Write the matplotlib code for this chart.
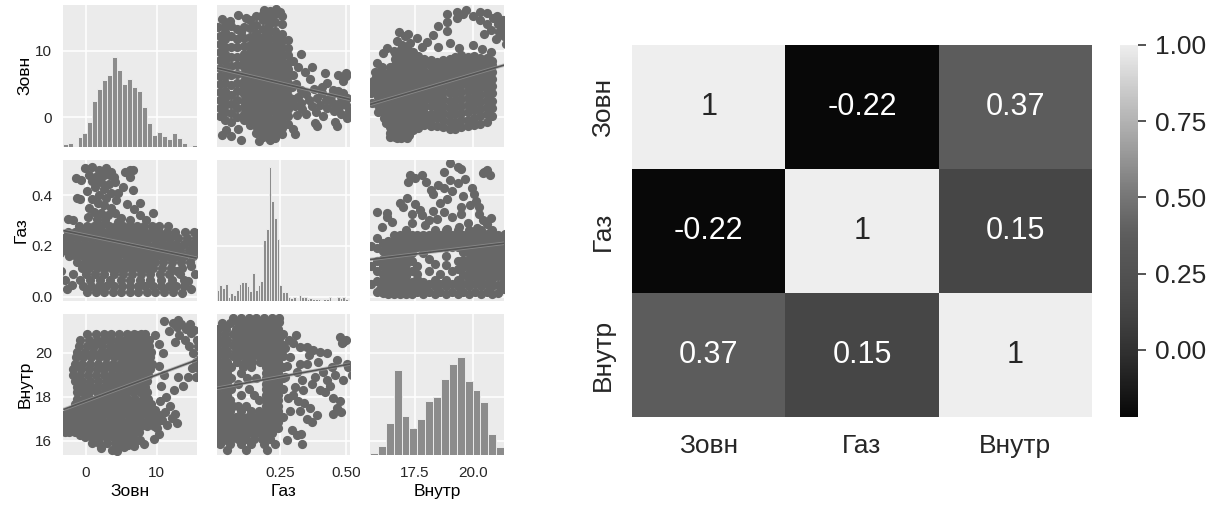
import numpy as np
import matplotlib
matplotlib.use("Agg")
import matplotlib.pyplot as plt
from matplotlib.colors import ListedColormap
import seaborn as sns

# ---------------------------------------------------------------- data
variables = ["Зовн", "Газ", "Внутр"]

corr_values = [[1.00, -0.22, 0.37],
               [-0.22, 1.00, 0.15],
               [0.37, 0.15, 1.00]]

# histogram: (first bin edge, bin width) and counts per bin
zovn_bins = (-3.30, 0.703)
zovn_counts = [7, 10, 3, 28, 42, 73, 135, 172, 200, 214, 268, 228, 188, 202,
               178, 165, 117, 70, 35, 44, 33, 23, 42, 27, 12, 3, 5]
gaz_bins = (0.009, 0.01038)
gaz_counts = [32, 47, 37, 50, 12, 24, 17, 32, 50, 55, 55, 44, 30, 82, 32, 47,
              59, 182, 215, 402, 300, 247, 184, 47, 27, 27, 10, 8, 12, 3, 17,
              10, 12, 6, 8, 6, 4, 4, 2, 6, 6, 12, 2, 3, 12, 8, 10, 4]
vnutr_bins = (15.55, 0.342)
vnutr_counts = [7, 28, 95, 255, 118, 80, 109, 162, 173, 228, 272, 292, 223,
                195, 158, 63, 25]

# scatter Зовн / Газ: rows (Газ, [Зовн, ...]) and single points (Зовн, Газ)
zovn_gaz_rows = [
    (0.280, [-1.0, 0.1, 1.2, 2.2, 3.2, 4.2, 5.2, 6.2, 7.2, 8.2, 9.3, 10.4, 11.6]),
    (0.256, [-2.6, -1.6, -0.6, 0.4, 1.4, 2.4, 3.4, 4.4, 5.4, 6.4, 7.4, 8.4, 9.4,
             10.4, 11.4, 12.6, 14.0, 15.3]),
    (0.232, [-3.1, -2.1, -1.1, -0.1, 0.9, 1.9, 2.9, 3.9, 4.9, 5.9, 6.9, 7.9, 8.9,
             9.9, 10.9, 11.9, 13.0, 14.3, 15.5]),
    (0.208, [-3.2, -2.3, -1.3, -0.3, 0.7, 1.7, 2.7, 3.7, 4.7, 5.7, 6.7, 7.7, 8.7,
             9.7, 10.7, 11.7, 12.8, 13.9, 15.0]),
    (0.184, [-3.0, -2.0, -1.0, 0.0, 1.0, 2.0, 3.0, 4.0, 5.0, 6.0, 7.0, 8.0, 9.0,
             10.0, 11.0, 12.1, 13.3, 14.6, 15.6]),
    (0.160, [-2.4, -1.4, -0.4, 0.6, 1.6, 2.6, 3.6, 4.6, 5.6, 6.6, 7.6, 8.6, 9.6,
             10.6, 11.6, 12.7, 13.9, 15.2]),
    (0.136, [-1.2, -0.2, 0.8, 1.8, 2.8, 3.8, 4.8, 5.8, 6.8, 7.8, 8.8, 9.8, 10.9,
             12.1, 13.4, 14.7]),
    (0.112, [-0.5, 0.5, 1.5, 2.5, 3.5, 4.5, 5.5, 6.5, 7.5, 8.5, 9.5, 10.7, 12.0, 13.6]),
    (0.088, [0.0, 1.3, 2.6, 3.9, 5.2, 6.5, 7.8, 9.1, 10.5, 11.8, 13.3]),
    (0.065, [-0.8, 0.6, 2.0, 3.4, 4.9, 6.3, 7.7, 9.0, 10.6, 12.2, 13.8]),
    (0.042, [-0.4, 0.7, 1.8, 2.9, 4.0, 5.1, 6.2, 7.3, 8.4, 9.5, 10.6, 11.7, 12.8, 13.8]),
    (0.020, [0.2, 1.4, 2.6, 3.8, 5.0, 6.2, 7.4, 8.6, 9.8, 11.0, 12.3]),
]
zovn_gaz_points = [
    (-0.1, 0.505), (0.9, 0.512), (1.9, 0.500), (2.9, 0.505), (3.6, 0.490),
    (6.2, 0.500), (0.4, 0.480), (1.5, 0.475), (2.5, 0.480), (3.9, 0.470),
    (-0.7, 0.460), (0.9, 0.455), (2.1, 0.450), (3.2, 0.445), (6.6, 0.420),
    (1.3, 0.430), (2.6, 0.425), (0.2, 0.415), (3.6, 0.410), (1.8, 0.400),
    (2.9, 0.390), (0.8, 0.385), (4.2, 0.380), (-1.3, 0.390), (1.7, 0.370),
    (2.6, 0.360), (3.5, 0.350), (0.5, 0.350), (5.8, 0.365), (6.8, 0.345),
    (1.2, 0.335), (2.2, 0.330), (3.1, 0.320), (4.1, 0.330), (0.3, 0.315),
    (9.5, 0.330), (5.0, 0.310), (7.6, 0.320), (-2.5, 0.305), (1.6, 0.305),
    (2.7, 0.300), (4.5, 0.295), (6.3, 0.300), (8.5, 0.300), (-1.8, 0.300),
    (6.3, 0.470), (6.6, 0.500), (5.5, 0.490), (4.1, 0.450), (3.4, 0.478),
    (1.1, 0.460), (-1.4, 0.466), (-0.9, 0.383), (7.6, 0.370), (4.5, 0.410),
    (5.2, 0.430), (16.0, 0.210), (16.3, 0.235), (15.9, 0.250), (16.1, 0.190),
    (-3.5, 0.100), (-3.6, 0.170), (-3.4, 0.210), (-2.7, 0.030), (-2.0, 0.045),
    (-2.9, 0.065), (14.8, 0.030), (15.4, 0.090), (-1.8, 0.090), (14.9, 0.120),
    (13.6, 0.015), (14.5, 0.060), (12.9, 0.100),
]

# scatter Зовн / Внутр: rows (Внутр, [Зовн, ...]) and single points (Зовн, Внутр)
zovn_vnutr_rows = [
    (20.85, [0.2, 1.4, 2.5, 3.6, 4.7, 5.8, 6.8, 7.8, 8.4]),
    (20.60, [-0.8, 0.4, 1.5, 2.6, 3.6, 4.6, 5.5, 6.4, 7.3, 8.2, 8.9]),
    (20.30, [-1.0, 0.1, 1.2, 2.3, 3.4, 4.4, 5.3, 6.2, 7.1, 8.0, 8.9, 5.8, 7.6]),
    (20.05, [-1.2, -0.1, 1.0, 2.1, 3.1, 4.1, 5.0, 5.9, 6.8, 7.7, 8.6, 9.2, 6.4]),
    (19.80, [-1.4, -0.4, 0.7, 1.8, 2.9, 3.9, 4.9, 5.8, 6.7, 7.6, 8.5, 9.1, 7.2]),
    (19.50, [-1.5, -0.5, 0.6, 1.7, 2.8, 3.8, 4.8, 5.7, 6.6, 7.5, 8.4, 9.3, 6.1]),
    (19.25, [-1.8, -0.7, 0.4, 1.5, 2.6, 3.7, 4.7, 5.6, 6.5, 7.4, 8.3, 9.0]),
    (19.00, [-1.8, -0.8, 0.3, 1.4, 2.5, 3.6, 4.6, 5.5, 6.4, 7.3, 8.2, 8.8]),
    (18.70, [-1.5, -0.5, 0.6, 1.7, 2.8, 3.8, 4.8, 5.8, 6.8, 7.8, 8.6]),
    (18.45, [-1.3, -0.2, 0.7, 1.6, 2.5, 3.4, 4.3, 5.3, 6.3, 7.3, 8.3]),
    (18.20, [-1.3, -0.4, 0.5, 1.6, 2.7, 3.7, 4.7, 5.7, 6.7, 7.7, 8.6]),
    (17.90, [-1.2, -0.3, 0.6, 1.5, 2.4, 3.3, 4.2, 5.1, 6.0, 7.0, 8.0, 8.8]),
    (17.65, [-1.6, -0.6, 0.4, 1.4, 2.4, 3.4, 4.4, 5.4, 6.4, 7.4, 8.4, 9.2]),
    (17.40, [-2.0, -1.5, -1.0, 0.0, 0.6, 1.0, 2.0, 3.0, 4.0, 5.0, 6.0, 7.0, 8.0,
             9.0, 9.8]),
    (17.15, [-3.1, -2.6, -2.2, -1.3, -0.8, -0.4, 0.5, 1.0, 1.4, 2.3, 3.2, 4.1, 5.0,
             5.9, 6.8, 7.7, 8.6, 9.5, 10.4]),
    (16.90, [-3.1, -2.2, -1.7, -1.3, -0.4, 0.0, 0.5, 1.4, 1.8, 2.3, 3.2, 4.1, 5.0,
             5.9, 6.8, 7.7, 8.6, 9.4, 10.2]),
    (16.65, [-3.0, -2.5, -2.1, -1.2, -0.7, -0.3, 0.6, 1.5, 2.4, 3.3, 4.2, 5.1, 6.0,
             6.9, 7.8, 8.7, 9.6]),
    (16.40, [-2.4, -1.5, -0.6, 0.3, 1.2, 2.1, 3.0, 3.9, 4.8, 5.7, 6.6, 7.5]),
    (16.15, [-0.2, 0.8, 1.8, 2.8, 3.8, 4.8, 5.8, 6.6]),
    (15.90, [0.8, 1.9, 3.0, 4.1, 5.2, 6.1]),
]
zovn_vnutr_points = [
    (2.2, 15.65), (3.7, 15.60), (5.4, 15.70), (6.8, 15.75), (4.4, 15.55),
    (9.8, 20.80), (10.3, 20.40), (10.9, 20.00), (10.4, 19.40), (11.1, 19.00),
    (10.6, 18.50), (11.3, 18.00), (10.5, 17.80), (11.9, 17.60), (12.4, 18.30),
    (11.7, 21.00), (12.3, 21.35), (12.9, 21.15), (13.5, 21.30), (14.1, 21.10),
    (14.7, 21.30), (15.3, 21.05), (13.2, 20.80), (14.0, 20.60), (12.6, 20.50),
    (14.6, 20.30), (15.2, 20.00), (15.5, 19.60), (15.0, 19.30), (14.4, 18.90),
    (13.7, 18.50), (13.0, 18.90), (15.6, 18.90), (10.0, 16.60), (10.8, 16.95),
    (11.5, 16.70), (12.2, 17.05), (12.9, 16.80), (11.2, 17.30), (12.6, 17.20),
    (10.4, 16.30), (9.6, 16.10), (8.2, 15.85), (7.6, 16.05), (15.8, 19.30),
    (16.1, 19.70), (15.9, 20.30), (15.7, 20.60), (14.9, 20.90), (4.5, 15.70),
    (6.0, 15.80), (7.0, 16.00), (13.0, 21.50), (11.0, 21.45),
    (6.5, 20.70), (7.5, 20.50), (8.5, 20.20), (7.0, 20.15), (8.0, 19.90),
    (6.0, 19.65), (8.8, 19.40), (7.8, 19.10), (5.2, 20.45), (6.9, 19.35),
    (7.2, 20.80), (8.2, 20.60), (6.2, 20.40), (8.6, 19.95), (7.4, 19.70),
    (5.6, 20.20), (8.0, 19.55), (6.6, 20.00), (7.9, 20.35), (5.9, 20.70),
    (-2.8, 16.75), (-1.9, 17.00), (-2.4, 16.50), (-1.0, 16.80), (-0.2, 16.55),
    (-1.6, 17.30), (-2.9, 17.00), (0.2, 16.30), (-0.9, 16.25), (-2.0, 16.85),
    (-2.6, 16.95), (-1.4, 16.60), (-3.0, 16.40), (-2.2, 17.20), (-0.6, 17.05),
    (-1.8, 16.45), (-2.7, 17.25), (-0.4, 16.85), (-1.2, 17.15), (-3.1, 16.70),
]

# scatter Газ / Внутр: rows (Внутр, [Газ, ...]) and single points (Газ, Внутр)
gaz_vnutr_rows = [
    (21.60, [0.07, 0.10, 0.13, 0.16, 0.19, 0.22, 0.245]),
    (21.35, [0.03, 0.06, 0.09, 0.115, 0.14, 0.165, 0.19, 0.215, 0.24, 0.205, 0.23]),
    (21.10, [0.015, 0.045, 0.082, 0.105, 0.128, 0.151, 0.174, 0.197, 0.22, 0.243,
             0.21, 0.23]),
    (20.85, [0.012, 0.04, 0.07, 0.095, 0.12, 0.145, 0.17, 0.195, 0.218, 0.241,
             0.262, 0.205, 0.23]),
    (20.60, [0.02, 0.05, 0.082, 0.105, 0.128, 0.151, 0.174, 0.197, 0.22, 0.243,
             0.21, 0.232]),
    (20.35, [0.012, 0.04, 0.07, 0.095, 0.12, 0.145, 0.17, 0.195, 0.218, 0.241,
             0.262, 0.205, 0.23]),
    (20.10, [0.02, 0.05, 0.082, 0.105, 0.128, 0.151, 0.174, 0.197, 0.22, 0.243,
             0.21, 0.232]),
    (19.85, [0.012, 0.04, 0.07, 0.095, 0.12, 0.145, 0.17, 0.195, 0.218, 0.241,
             0.262, 0.205, 0.23]),
    (19.60, [0.02, 0.05, 0.085, 0.115, 0.145, 0.175, 0.197, 0.22, 0.243, 0.21]),
    (19.35, [0.012, 0.04, 0.065, 0.11, 0.14, 0.195, 0.218, 0.241, 0.262]),
    (19.10, [0.02, 0.048, 0.10, 0.197, 0.22, 0.243]),
    (18.85, [0.012, 0.04, 0.065, 0.125, 0.16, 0.195, 0.218, 0.241, 0.262]),
    (18.60, [0.02, 0.048, 0.09, 0.197, 0.22, 0.243]),
    (18.35, [0.012, 0.04, 0.065, 0.13, 0.195, 0.218, 0.241, 0.262]),
    (18.10, [0.02, 0.048, 0.10, 0.15, 0.197, 0.22, 0.243]),
    (17.85, [0.012, 0.035, 0.058, 0.17, 0.195, 0.218, 0.241]),
    (17.60, [0.02, 0.045, 0.07, 0.09, 0.12, 0.197, 0.22, 0.243]),
    (17.35, [0.012, 0.035, 0.058, 0.10, 0.14, 0.17, 0.195, 0.218, 0.241]),
    (17.10, [0.012, 0.025, 0.035, 0.047, 0.058, 0.082, 0.105, 0.128, 0.151, 0.174,
             0.197, 0.22, 0.243, 0.262]),
    (16.85, [0.012, 0.025, 0.035, 0.047, 0.058, 0.082, 0.105, 0.128, 0.151, 0.174,
             0.197, 0.22, 0.243]),
    (16.60, [0.012, 0.025, 0.035, 0.047, 0.058, 0.082, 0.105, 0.128, 0.151, 0.174,
             0.197, 0.22, 0.243]),
    (16.35, [0.012, 0.025, 0.035, 0.058, 0.082, 0.105, 0.128, 0.151, 0.174, 0.197,
             0.22]),
    (16.10, [0.015, 0.04, 0.065, 0.09, 0.12, 0.15, 0.18, 0.21]),
    (15.85, [0.02, 0.06, 0.10, 0.14, 0.19, 0.23]),
    (15.60, [0.05, 0.12, 0.20]),
]
gaz_vnutr_points = [
    (0.301, 20.43), (0.326, 20.28), (0.352, 20.28), (0.377, 20.13), (0.403, 20.05),
    (0.428, 19.98), (0.478, 20.73), (0.491, 20.50), (0.503, 19.50), (0.465, 19.65),
    (0.446, 19.35), (0.415, 19.12), (0.383, 18.90), (0.352, 19.50), (0.326, 19.50),
    (0.313, 19.12), (0.332, 18.75), (0.306, 18.44), (0.339, 18.30), (0.320, 17.80),
    (0.364, 17.50), (0.326, 17.35), (0.288, 17.35), (0.352, 17.00), (0.453, 17.20),
    (0.466, 17.50), (0.478, 17.80), (0.491, 18.75), (0.510, 19.35), (0.428, 18.75),
    (0.453, 17.96), (0.403, 18.30), (0.288, 19.80), (0.294, 16.50), (0.275, 16.05),
    (0.281, 17.95), (0.268, 18.90), (0.330, 16.30), (0.370, 16.85), (0.390, 17.15),
    (0.480, 17.30), (0.500, 20.60), (0.485, 20.45), (0.440, 18.50), (0.460, 19.00),
    (0.420, 18.20), (0.395, 19.60), (0.360, 19.90), (0.310, 20.80), (0.285, 20.60),
    (0.270, 20.20), (0.275, 19.40), (0.300, 18.10), (0.525, 19.00), (0.370, 18.60),
    (0.340, 17.70), (0.334, 15.85), (0.314, 16.27),
    (0.018, 16.50), (0.030, 16.75), (0.042, 17.00), (0.050, 16.45), (0.022, 17.25),
    (0.060, 16.20), (0.030, 16.00), (0.045, 16.70), (0.015, 16.95), (0.055, 17.20),
    (0.200, 21.20), (0.225, 20.95), (0.250, 20.70), (0.210, 20.45), (0.235, 20.20),
    (0.255, 19.95), (0.200, 19.70), (0.245, 21.40), (0.215, 21.50), (0.230, 19.50),
]

# ---------------------------------------------------------------- style
plt.rcParams["font.family"] = ["Liberation Sans", "DejaVu Sans"]
TEXT = "#262626"
plt.rcParams["text.color"] = TEXT
plt.rcParams["xtick.color"] = TEXT
plt.rcParams["ytick.color"] = TEXT

BG = "#ebebeb"
POINT = "#676767"
BAR = "#8c8c8c"

W, H = 1228, 505
fig = plt.figure(figsize=(W / 100, H / 100), dpi=100)
fig.patch.set_facecolor("white")


def px_axes(x0, y0, x1, y1):
    return fig.add_axes([x0 / W, 1 - y1 / H, (x1 - x0) / W, (y1 - y0) / H])


def expand(rows, points):
    xs, ys = [], []
    for y, row in rows:
        xs.extend(row)
        ys.extend([y] * len(row))
    for x, y in points:
        xs.append(x)
        ys.append(y)
    return np.array(xs), np.array(ys)


pairs = {
    (0, 1): expand(zovn_gaz_rows, zovn_gaz_points),
    (0, 2): expand(zovn_vnutr_rows, zovn_vnutr_points),
    (1, 2): expand(gaz_vnutr_rows, gaz_vnutr_points),
}
hists = [(zovn_bins, zovn_counts), (gaz_bins, gaz_counts), (vnutr_bins, vnutr_counts)]
hist_top = max(max(c) for _, c in hists) * 1.05

# ---------------------------------------------------------------- pair grid
col_px = [(63.3, 196.7), (216.7, 350.0), (370.0, 504.3)]
row_px = [(5.0, 146.7), (160.0, 300.7), (314.0, 455.0)]
col_lims = [(-3.2, 15.66), (0.009, 0.516), (15.55, 21.37)]
row_lims = [(-4.46, 16.9), (-0.016, 0.538), (15.35, 21.76)]
col_ticks = [([0, 10], ["0", "10"]), ([0.25, 0.5], ["0.25", "0.50"]),
             ([17.5, 20.0], ["17.5", "20.0"])]
row_ticks = [([0, 10], ["0", "10"]), ([0.0, 0.2, 0.4], ["0.0", "0.2", "0.4"]),
             ([16, 18, 20], ["16", "18", "20"])]

for r in range(3):
    for c in range(3):
        ax = px_axes(col_px[c][0], row_px[r][0], col_px[c][1], row_px[r][1])
        ax.set_facecolor(BG)
        for s in ax.spines.values():
            s.set_visible(False)
        ax.set_xlim(*col_lims[c])
        ax.set_ylim(*row_lims[r])
        ax.set_xticks(col_ticks[c][0])
        ax.set_yticks(row_ticks[r][0])
        ax.set_xticklabels(col_ticks[c][1] if r == 2 else [])
        ax.set_yticklabels(row_ticks[r][1] if c == 0 else [])
        ax.tick_params(length=0, pad=8, labelsize=11)
        ax.grid(True, color="white", lw=1.1)
        ax.set_axisbelow(True)
        if c == 0:
            ax.set_ylabel(variables[r], fontsize=12.5, labelpad=2)
        if r == 2:
            ax.set_xlabel(variables[c], fontsize=12.5, labelpad=3)

        if r == c:
            (start, width), counts = hists[r]
            edges = start + width * np.arange(len(counts))
            tw = ax.twinx()
            tw.bar(edges, counts, width=width, align="edge", color=BAR,
                   edgecolor=BG, linewidth=0.7)
            tw.set_ylim(0, hist_top)
            tw.set_yticks([])
            tw.grid(False)
            for s in tw.spines.values():
                s.set_visible(False)
            continue

        if c < r:
            xs, ys = pairs[(c, r)]
        else:
            ys, xs = pairs[(r, c)]
        ax.scatter(xs, ys, s=44, color=POINT, linewidths=0, zorder=2)
        slope, icpt = np.polyfit(xs, ys, 1)
        lx = np.array(col_lims[c])
        ax.plot(lx, slope * lx + icpt, color="#9c9c9c", lw=2.5, alpha=0.6,
                zorder=3, solid_capstyle="butt")
        ax.plot(lx, slope * lx + icpt, color="#555555", lw=1.2, zorder=4,
                solid_capstyle="butt")

# ---------------------------------------------------------------- heatmap
rocket = sns.color_palette("rocket", as_cmap=True)
rgb = rocket(np.linspace(0, 1, 256))[:, :3]
lum = rgb @ np.array([0.34, 0.49, 0.17])
gray_rocket = ListedColormap(np.column_stack([lum, lum, lum]))

hax = px_axes(632, 45, 1092, 417)
cax = px_axes(1120, 45, 1138, 417)
corr = np.array(corr_values)
sns.heatmap(corr, annot=True, cmap=gray_rocket, ax=hax, cbar_ax=cax,
            xticklabels=variables, yticklabels=variables,
            annot_kws={"fontsize": 22})
hax.tick_params(length=0, labelsize=19, pad=12)
for lab in hax.get_yticklabels():
    lab.set_rotation(90)
    lab.set_va("center")
for s in hax.spines.values():
    s.set_visible(False)

cbar = hax.collections[0].colorbar
cbar.outline.set_visible(False)
cbar.set_ticks([0.0, 0.25, 0.5, 0.75, 1.0])
cbar.set_ticklabels(["0.00", "0.25", "0.50", "0.75", "1.00"])
cax.tick_params(length=5.5, width=1.1, color=TEXT, labelsize=19, pad=7)

fig.savefig("out.png", dpi=100, facecolor="white")
